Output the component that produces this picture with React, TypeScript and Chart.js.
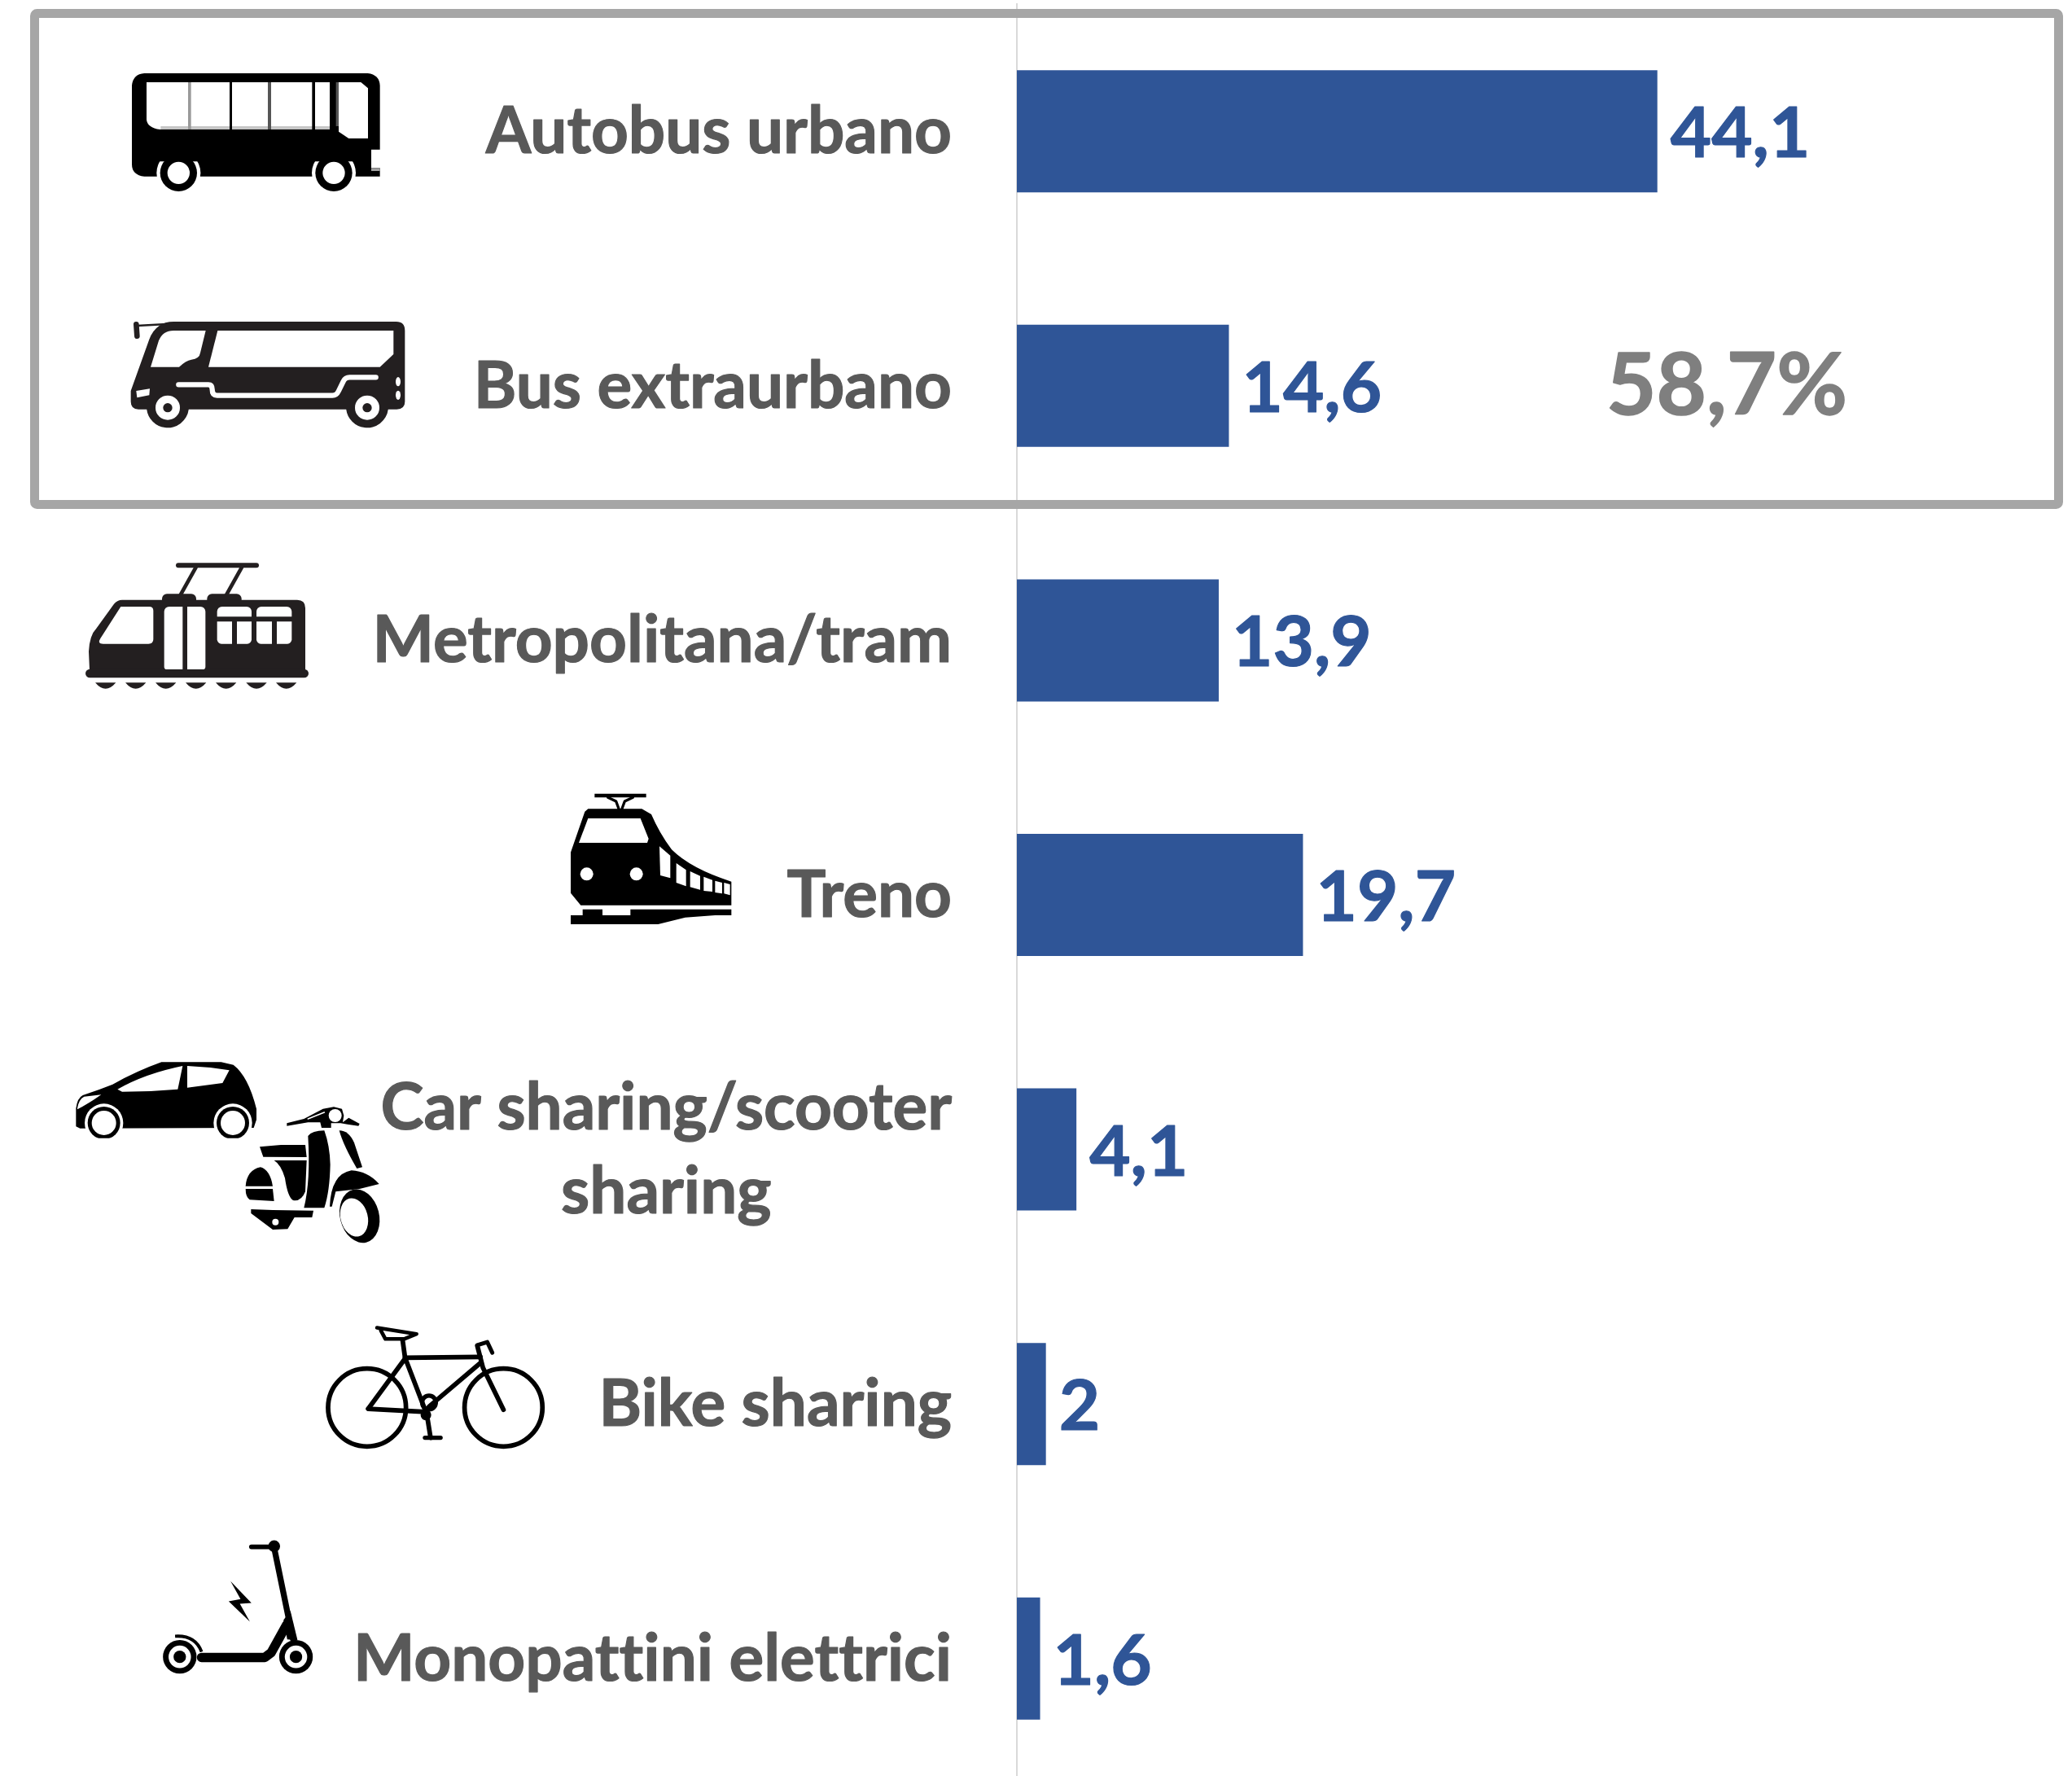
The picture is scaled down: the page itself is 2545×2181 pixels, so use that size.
import React, { useEffect, useRef } from "react";
import { Chart, registerables } from "chart.js";

Chart.register(...registerables);

const categories: (string | string[])[] = [
  "Autobus urbano",
  "Bus extraurbano",
  "Metropolitana/tram",
  "Treno",
  ["Car sharing/scooter", "sharing"],
  "Bike sharing",
  "Monopattini elettrici",
];
const shareValues = [44.1, 14.6, 13.9, 19.7, 4.1, 2, 1.6];
const highlightLabel = "58,7%";

const BLUE = "#2F5597";
const GREY_TEXT = "#595959";
const INK = "#231F20";
const BLACK = "#000000";
const WHITE = "#FFFFFF";

type C = CanvasRenderingContext2D;

function poly(c: C, pts: number[], fill: string) {
  c.beginPath();
  c.moveTo(pts[0], pts[1]);
  for (let i = 2; i < pts.length; i += 2) c.lineTo(pts[i], pts[i + 1]);
  c.closePath();
  c.fillStyle = fill;
  c.fill();
}
function disc(c: C, x: number, y: number, r: number, fill: string) {
  c.beginPath();
  c.arc(x, y, r, 0, Math.PI * 2);
  c.fillStyle = fill;
  c.fill();
}
function rr(c: C, x0: number, y0: number, x1: number, y1: number, r: number | number[], fill: string) {
  c.beginPath();
  c.roundRect(x0, y0, x1 - x0, y1 - y0, r);
  c.fillStyle = fill;
  c.fill();
}
function seg(c: C, pts: number[], w: number, col: string, cap: CanvasLineCap = "round") {
  c.beginPath();
  c.moveTo(pts[0], pts[1]);
  for (let i = 2; i < pts.length; i += 2) c.lineTo(pts[i], pts[i + 1]);
  c.lineWidth = w;
  c.lineCap = cap;
  c.lineJoin = "round";
  c.strokeStyle = col;
  c.stroke();
}
function place(c: C, ox: number, oy: number, k: number, fn: (c: C) => void) {
  c.save();
  c.translate(ox, oy);
  c.scale(1 / k, 1 / k);
  fn(c);
  c.restore();
}

function cityBus(c: C) {
  c.beginPath();
  c.moveTo(36, 90);
  c.quadraticCurveTo(40, 48, 82, 45);
  c.lineTo(905, 45);
  c.quadraticCurveTo(948, 50, 950, 90);
  c.lineTo(950, 326);
  c.lineTo(918, 326);
  c.lineTo(918, 394);
  c.lineTo(950, 394);
  c.lineTo(950, 425);
  c.lineTo(82, 425);
  c.quadraticCurveTo(36, 420, 36, 380);
  c.closePath();
  c.fillStyle = BLACK;
  c.fill();
  rr(c, 918, 394, 950, 405, 0, "#A0A0A0");
  c.beginPath();
  c.moveTo(90, 78);
  c.lineTo(765, 78);
  c.lineTo(765, 252);
  c.lineTo(140, 252);
  c.quadraticCurveTo(92, 245, 90, 215);
  c.closePath();
  c.fillStyle = WHITE;
  c.fill();
  rr(c, 142, 240, 765, 252, 0, "#C6C6C6");
  rr(c, 243, 78, 254, 252, 0, "#9A9A9A");
  rr(c, 396, 78, 405, 252, 0, BLACK);
  rr(c, 537, 78, 549, 252, 0, "#555555");
  rr(c, 700, 78, 711, 252, 0, BLACK);
  rr(c, 788, 78, 798, 240, 0, "#555555");
  poly(c, [798, 78, 880, 78, 906, 100, 906, 285, 835, 285, 798, 260], WHITE);
  for (const x of [208, 780]) {
    c.save();
    c.beginPath();
    c.rect(x - 90, 370, 180, 120);
    c.clip();
    disc(c, x, 412, 81, WHITE);
    c.restore();
    disc(c, x, 412, 68, BLACK);
    disc(c, x, 412, 41, WHITE);
  }
}

function coach(c: C) {
  seg(c, [55, 60, 165, 54], 8, INK);
  seg(c, [52, 55, 55, 98], 20, INK);
  c.beginPath();
  c.moveTo(32, 300);
  c.lineTo(100, 110);
  c.quadraticCurveTo(125, 45, 190, 45);
  c.lineTo(1010, 45);
  c.quadraticCurveTo(1042, 45, 1042, 78);
  c.lineTo(1042, 340);
  c.quadraticCurveTo(1042, 368, 1012, 368);
  c.lineTo(980, 368);
  c.arc(903, 358, 78, 0.13, Math.PI - 0.13);
  c.lineTo(245, 368);
  c.arc(168, 358, 78, 0.13, Math.PI - 0.13);
  c.lineTo(60, 368);
  c.quadraticCurveTo(32, 368, 32, 340);
  c.closePath();
  c.fillStyle = INK;
  c.fill();
  c.beginPath();
  c.moveTo(105, 212);
  c.lineTo(135, 115);
  c.quadraticCurveTo(150, 78, 190, 78);
  c.lineTo(308, 78);
  c.lineTo(288, 160);
  c.quadraticCurveTo(285, 182, 255, 185);
  c.quadraticCurveTo(235, 188, 210, 212);
  c.closePath();
  c.fillStyle = WHITE;
  c.fill();
  poly(c, [352, 78, 1000, 78, 1000, 165, 950, 212, 318, 212], WHITE);
  c.beginPath();
  c.moveTo(208, 277);
  c.lineTo(318, 277);
  c.quadraticCurveTo(332, 277, 332, 295);
  c.quadraticCurveTo(332, 317, 350, 317);
  c.lineTo(775, 317);
  c.quadraticCurveTo(790, 317, 798, 300);
  c.lineTo(815, 265);
  c.quadraticCurveTo(822, 250, 838, 250);
  c.lineTo(935, 250);
  c.lineWidth = 19;
  c.lineCap = "round";
  c.lineJoin = "round";
  c.strokeStyle = WHITE;
  c.stroke();
  poly(c, [52, 300, 102, 292, 100, 316, 55, 325], WHITE);
  for (const y of [266, 316]) {
    c.beginPath();
    c.ellipse(1017, y, 9, 17, 0, 0, Math.PI * 2);
    c.fillStyle = WHITE;
    c.fill();
  }
  for (const x of [168, 903]) {
    disc(c, x, 362, 45, WHITE);
    disc(c, x, 362, 17, INK);
  }
}

function tram(c: C) {
  seg(c, [372, 43, 660, 43], 18, INK);
  seg(c, [437, 50, 380, 152], 14, INK);
  seg(c, [606, 50, 549, 152], 14, INK);
  rr(c, 312, 148, 438, 180, [18, 18, 0, 0], INK);
  rr(c, 478, 148, 605, 180, [18, 18, 0, 0], INK);
  c.beginPath();
  c.moveTo(45, 430);
  c.lineTo(42, 360);
  c.quadraticCurveTo(45, 300, 70, 275);
  c.lineTo(135, 185);
  c.quadraticCurveTo(148, 170, 165, 170);
  c.lineTo(810, 170);
  c.quadraticCurveTo(840, 170, 840, 200);
  c.lineTo(840, 430);
  c.closePath();
  c.fillStyle = INK;
  c.fill();
  rr(c, 30, 425, 852, 457, 16, INK);
  c.beginPath();
  c.moveTo(160, 195);
  c.lineTo(265, 195);
  c.quadraticCurveTo(280, 195, 280, 210);
  c.lineTo(280, 315);
  c.quadraticCurveTo(280, 332, 262, 332);
  c.lineTo(95, 332);
  c.quadraticCurveTo(72, 332, 85, 312);
  c.closePath();
  c.fillStyle = WHITE;
  c.fill();
  rr(c, 320, 195, 388, 426, [18, 0, 0, 10], WHITE);
  rr(c, 405, 195, 472, 426, [0, 18, 10, 0], WHITE);
  rr(c, 515, 195, 642, 232, [18, 18, 0, 0], WHITE);
  rr(c, 660, 195, 790, 232, [18, 18, 0, 0], WHITE);
  rr(c, 515, 250, 570, 332, [0, 0, 0, 16], WHITE);
  rr(c, 588, 250, 642, 332, [0, 0, 16, 0], WHITE);
  rr(c, 660, 250, 717, 332, [0, 0, 0, 16], WHITE);
  rr(c, 735, 250, 790, 332, [0, 0, 16, 0], WHITE);
  for (const x of [104, 215, 326, 437, 548, 660, 770]) {
    c.beginPath();
    c.moveTo(x - 38, 475);
    c.quadraticCurveTo(x, 520, x + 38, 475);
    c.closePath();
    c.fillStyle = INK;
    c.fill();
  }
}

function train(c: C) {
  rr(c, 136, 44, 326, 58, 0, BLACK);
  seg(c, [185, 58, 215, 72, 226, 102], 10, BLACK);
  seg(c, [277, 58, 247, 72, 236, 102], 10, BLACK);
  c.beginPath();
  c.moveTo(48, 260);
  c.lineTo(100, 110);
  c.lineTo(112, 100);
  c.lineTo(310, 100);
  c.lineTo(345, 120);
  c.quadraticCurveTo(375, 190, 420, 250);
  c.quadraticCurveTo(490, 320, 640, 368);
  c.lineTo(640, 455);
  c.lineTo(85, 455);
  c.lineTo(48, 410);
  c.closePath();
  c.fillStyle = BLACK;
  c.fill();
  poly(c, [78, 225, 112, 135, 305, 135, 335, 210, 330, 225], WHITE);
  disc(c, 107, 340, 24, WHITE);
  disc(c, 290, 340, 24, WHITE);
  poly(c, [375, 238, 415, 272, 415, 355, 378, 345], WHITE);
  poly(c, [437, 300, 473, 325, 473, 385, 437, 372], WHITE);
  poly(c, [488, 330, 525, 347, 525, 398, 488, 388], WHITE);
  poly(c, [538, 350, 570, 362, 570, 405, 538, 402], WHITE);
  poly(c, [580, 365, 606, 372, 606, 412, 580, 408], WHITE);
  poly(c, [613, 372, 635, 378, 635, 418, 613, 412], WHITE);
  poly(c, [92, 470, 165, 470, 165, 492, 268, 492, 268, 470, 640, 470, 640, 492, 580, 492, 470, 500, 370, 525, 48, 525, 48, 492, 92, 492], BLACK);
}

function car(c: C) {
  c.beginPath();
  c.moveTo(25, 295);
  c.lineTo(25, 228);
  c.quadraticCurveTo(30, 190, 50, 180);
  c.quadraticCurveTo(110, 160, 160, 140);
  c.quadraticCurveTo(250, 90, 340, 58);
  c.lineTo(560, 58);
  c.lineTo(605, 68);
  c.quadraticCurveTo(660, 110, 690, 230);
  c.lineTo(690, 270);
  c.lineTo(680, 300);
  c.lineTo(40, 302);
  c.closePath();
  c.fillStyle = BLACK;
  c.fill();
  c.beginPath();
  c.moveTo(178, 158);
  c.quadraticCurveTo(280, 100, 418, 72);
  c.lineTo(400, 158);
  c.lineTo(300, 165);
  c.lineTo(195, 167);
  c.closePath();
  c.fillStyle = WHITE;
  c.fill();
  poly(c, [435, 72, 520, 78, 590, 88, 565, 135, 435, 152], WHITE);
  c.beginPath();
  c.moveTo(30, 228);
  c.quadraticCurveTo(35, 195, 55, 185);
  c.lineTo(118, 178);
  c.quadraticCurveTo(70, 212, 30, 232);
  c.closePath();
  c.fillStyle = WHITE;
  c.fill();
  c.save();
  c.beginPath();
  c.rect(0, 0, 735, 338);
  c.clip();
  for (const x of [128, 603]) {
    disc(c, x, 282, 71, WHITE);
    disc(c, x, 282, 60, BLACK);
    disc(c, x, 282, 45, WHITE);
  }
  c.restore();
}

function vespa(c: C) {
  poly(c, [172, 88, 235, 72, 305, 35, 345, 28, 375, 35, 382, 60, 378, 85, 400, 68, 440, 90, 436, 98, 395, 92, 370, 88, 335, 88, 335, 105, 300, 105, 295, 85, 250, 85, 172, 98], BLACK);
  c.beginPath();
  c.ellipse(350, 60, 24, 24, 0, 0, Math.PI * 2);
  c.fillStyle = WHITE;
  c.fill();
  seg(c, [250, 72, 310, 48], 5, WHITE);
  c.beginPath();
  c.moveTo(250, 135);
  c.quadraticCurveTo(265, 115, 310, 115);
  c.quadraticCurveTo(330, 170, 332, 240);
  c.quadraticCurveTo(330, 340, 310, 400);
  c.lineTo(235, 400);
  c.quadraticCurveTo(260, 300, 250, 135);
  c.closePath();
  c.fillStyle = BLACK;
  c.fill();
  c.beginPath();
  c.moveTo(365, 115);
  c.quadraticCurveTo(400, 115, 420, 160);
  c.lineTo(450, 250);
  c.lineTo(430, 255);
  c.quadraticCurveTo(380, 170, 365, 115);
  c.closePath();
  c.fill();
  poly(c, [72, 175, 150, 168, 240, 168, 245, 213, 85, 212], BLACK);
  c.beginPath();
  c.moveTo(125, 225);
  c.lineTo(245, 225);
  c.lineTo(240, 340);
  c.quadraticCurveTo(225, 378, 195, 372);
  c.quadraticCurveTo(175, 360, 165, 290);
  c.quadraticCurveTo(150, 240, 125, 225);
  c.closePath();
  c.fill();
  c.beginPath();
  c.moveTo(20, 320);
  c.quadraticCurveTo(25, 260, 75, 250);
  c.quadraticCurveTo(110, 260, 120, 320);
  c.closePath();
  c.fill();
  c.beginPath();
  c.moveTo(20, 330);
  c.lineTo(120, 330);
  c.lineTo(125, 375);
  c.lineTo(35, 370);
  c.quadraticCurveTo(20, 360, 20, 330);
  c.closePath();
  c.fill();
  poly(c, [40, 405, 120, 408, 270, 410, 265, 435, 200, 435, 175, 478, 120, 480, 80, 450, 40, 420], BLACK);
  disc(c, 130, 452, 12, WHITE);
  c.beginPath();
  c.moveTo(330, 395);
  c.quadraticCurveTo(335, 275, 410, 262);
  c.quadraticCurveTo(470, 265, 512, 312);
  c.lineTo(440, 330);
  c.lineTo(352, 340);
  c.lineTo(338, 395);
  c.closePath();
  c.fillStyle = BLACK;
  c.fill();
  c.beginPath();
  c.ellipse(440, 430, 72, 100, -0.25, 0, Math.PI * 2);
  c.fillStyle = BLACK;
  c.fill();
  c.beginPath();
  c.ellipse(420, 435, 50, 72, -0.25, 0, Math.PI * 2);
  c.fillStyle = WHITE;
  c.fill();
}

function bike(c: C) {
  const w = 15;
  c.beginPath();
  c.arc(786, 388, 125, 0, Math.PI * 2);
  c.lineWidth = w;
  c.strokeStyle = BLACK;
  c.stroke();
  c.beginPath();
  c.arc(1224, 388, 125, 0, Math.PI * 2);
  c.stroke();
  seg(c, [900, 170, 908, 228, 1150, 226], w, BLACK);
  seg(c, [908, 228, 978, 410, 990, 485], w, BLACK);
  seg(c, [1150, 245, 985, 385], w, BLACK);
  seg(c, [790, 392, 975, 402], w, BLACK);
  seg(c, [790, 392, 905, 235], w, BLACK);
  seg(c, [1140, 190, 1158, 260, 1224, 395], w, BLACK);
  seg(c, [1140, 188, 1172, 178, 1188, 212], 13, BLACK);
  seg(c, [818, 132, 945, 152, 905, 168, 845, 168, 830, 140], 12, BLACK);
  seg(c, [972, 485, 1022, 485], 14, BLACK);
  c.beginPath();
  c.arc(985, 372, 22, 0, Math.PI * 2);
  c.lineWidth = 14;
  c.stroke();
  disc(c, 975, 412, 17, BLACK);
}

function kickScooter(c: C) {
  seg(c, [415, 835, 488, 835], 15, BLACK);
  disc(c, 488, 833, 19, BLACK);
  seg(c, [488, 838, 548, 1130], 19, BLACK);
  poly(c, [518, 1070, 540, 1040, 563, 1135, 530, 1132], BLACK);
  seg(c, [255, 1190, 458, 1190, 478, 1175, 528, 1085], 30, BLACK);
  c.beginPath();
  c.moveTo(170, 1122);
  c.quadraticCurveTo(235, 1118, 255, 1172);
  c.lineWidth = 10;
  c.strokeStyle = BLACK;
  c.lineCap = "butt";
  c.stroke();
  for (const x of [185, 558]) {
    disc(c, x, 1188, 54, BLACK);
    disc(c, x, 1188, 36, WHITE);
    disc(c, x, 1188, 20, BLACK);
  }
  poly(c, [348, 945, 415, 1015, 378, 1018, 410, 1075, 342, 1010, 380, 1003], BLACK);
}

function boldText(c: C, text: string, x: number, y: number, thicken: number) {
  c.lineWidth = thicken;
  c.lineJoin = "round";
  c.strokeStyle = c.fillStyle as string;
  c.strokeText(text, x, y);
  c.fillText(text, x, y);
}

const overlay = {
  id: "overlay",
  afterLayout(chart: any) {
    const area = chart.chartArea;
    const y = chart.scales.y;
    const fullBottom = 2193;
    area.bottom = fullBottom;
    area.height = fullBottom - area.top;
    y.bottom = fullBottom;
    y.height = fullBottom - y.top;
    y.configure();
  },
  afterDraw(chart: any) {
    const c: C = chart.ctx;
    const y = chart.scales.y;
    const meta = chart.getDatasetMeta(0);
    c.save();

    c.textBaseline = "middle";
    c.textAlign = "right";
    c.font = "bold 80px Lato";
    (c as any).textRendering = "optimizeSpeed";
    c.fillStyle = GREY_TEXT;
    categories.forEach((cat, i) => {
      const cy = y.getPixelForValue(i) + 1;
      if (Array.isArray(cat)) {
        const widest = Math.max(...cat.map((t) => c.measureText(t).width));
        const right = 1169;
        c.textAlign = "center";
        cat.forEach((t, j) => {
          boldText(c, t, right - widest / 2, cy + (j - (cat.length - 1) / 2) * 103, 1.2);
        });
        c.textAlign = "right";
      } else {
        boldText(c, cat, 1169, cy, 1.2);
      }
    });
    (c as any).textRendering = "auto";

    c.textAlign = "left";
    c.font = "bold 87px Lato";
    c.fillStyle = BLUE;
    shareValues.forEach((v, i) => {
      const bar = meta.data[i];
      boldText(c, String(v).replace(".", ","), bar.x + 16, bar.y + 4, 1.2);
    });

    c.font = "bold 106px Lato";
    c.fillStyle = "#7F7F7F";
    boldText(c, highlightLabel, 1973, y.getPixelForValue(1) + 1, 1.5);

    c.beginPath();
    c.roundRect(42.5, 16.5, 2486, 603, 3);
    c.lineWidth = 11;
    c.strokeStyle = "#A6A6A6";
    c.stroke();

    place(c, 150, 75, 3, cityBus);
    place(c, 150, 380, 3, coach);
    place(c, 95, 680, 3, tram);
    place(c, 685, 960, 3, train);
    place(c, 85, 1285, 3, car);
    place(c, 295, 1350, 3, vespa);
    place(c, 150, 1580, 2.613, bike);
    place(c, 150, 1580, 2.613, kickScooter);
    c.restore();
  },
};

export default function App() {
  const ref = useRef<HTMLCanvasElement | null>(null);
  useEffect(() => {
    document.body.style.margin = "0";
    const chart = new Chart(ref.current as HTMLCanvasElement, {
      type: "bar",
      data: {
        labels: categories as any,
        datasets: [
          {
            data: shareValues,
            backgroundColor: BLUE,
            barPercentage: 0.48,
            categoryPercentage: 1,
          },
        ],
      },
      options: {
        indexAxis: "y",
        animation: false,
        responsive: false,
        layout: { padding: { top: 5, bottom: 0, left: 0, right: 0 } },
        plugins: { legend: { display: false }, tooltip: { enabled: false } },
        scales: {
          x: { min: 0, max: 72.65, display: false },
          y: {
            grid: { display: false, drawTicks: false },
            border: { display: true, color: "#D9D9D9", width: 2 },
            ticks: { display: false },
            afterFit(scale: any) {
              scale.width = 1249;
            },
          },
        },
      },
      plugins: [overlay],
    } as any);
    return () => chart.destroy();
  }, []);
  return <canvas ref={ref} width={2545} height={2181} style={{ display: "block" }} />;
}
